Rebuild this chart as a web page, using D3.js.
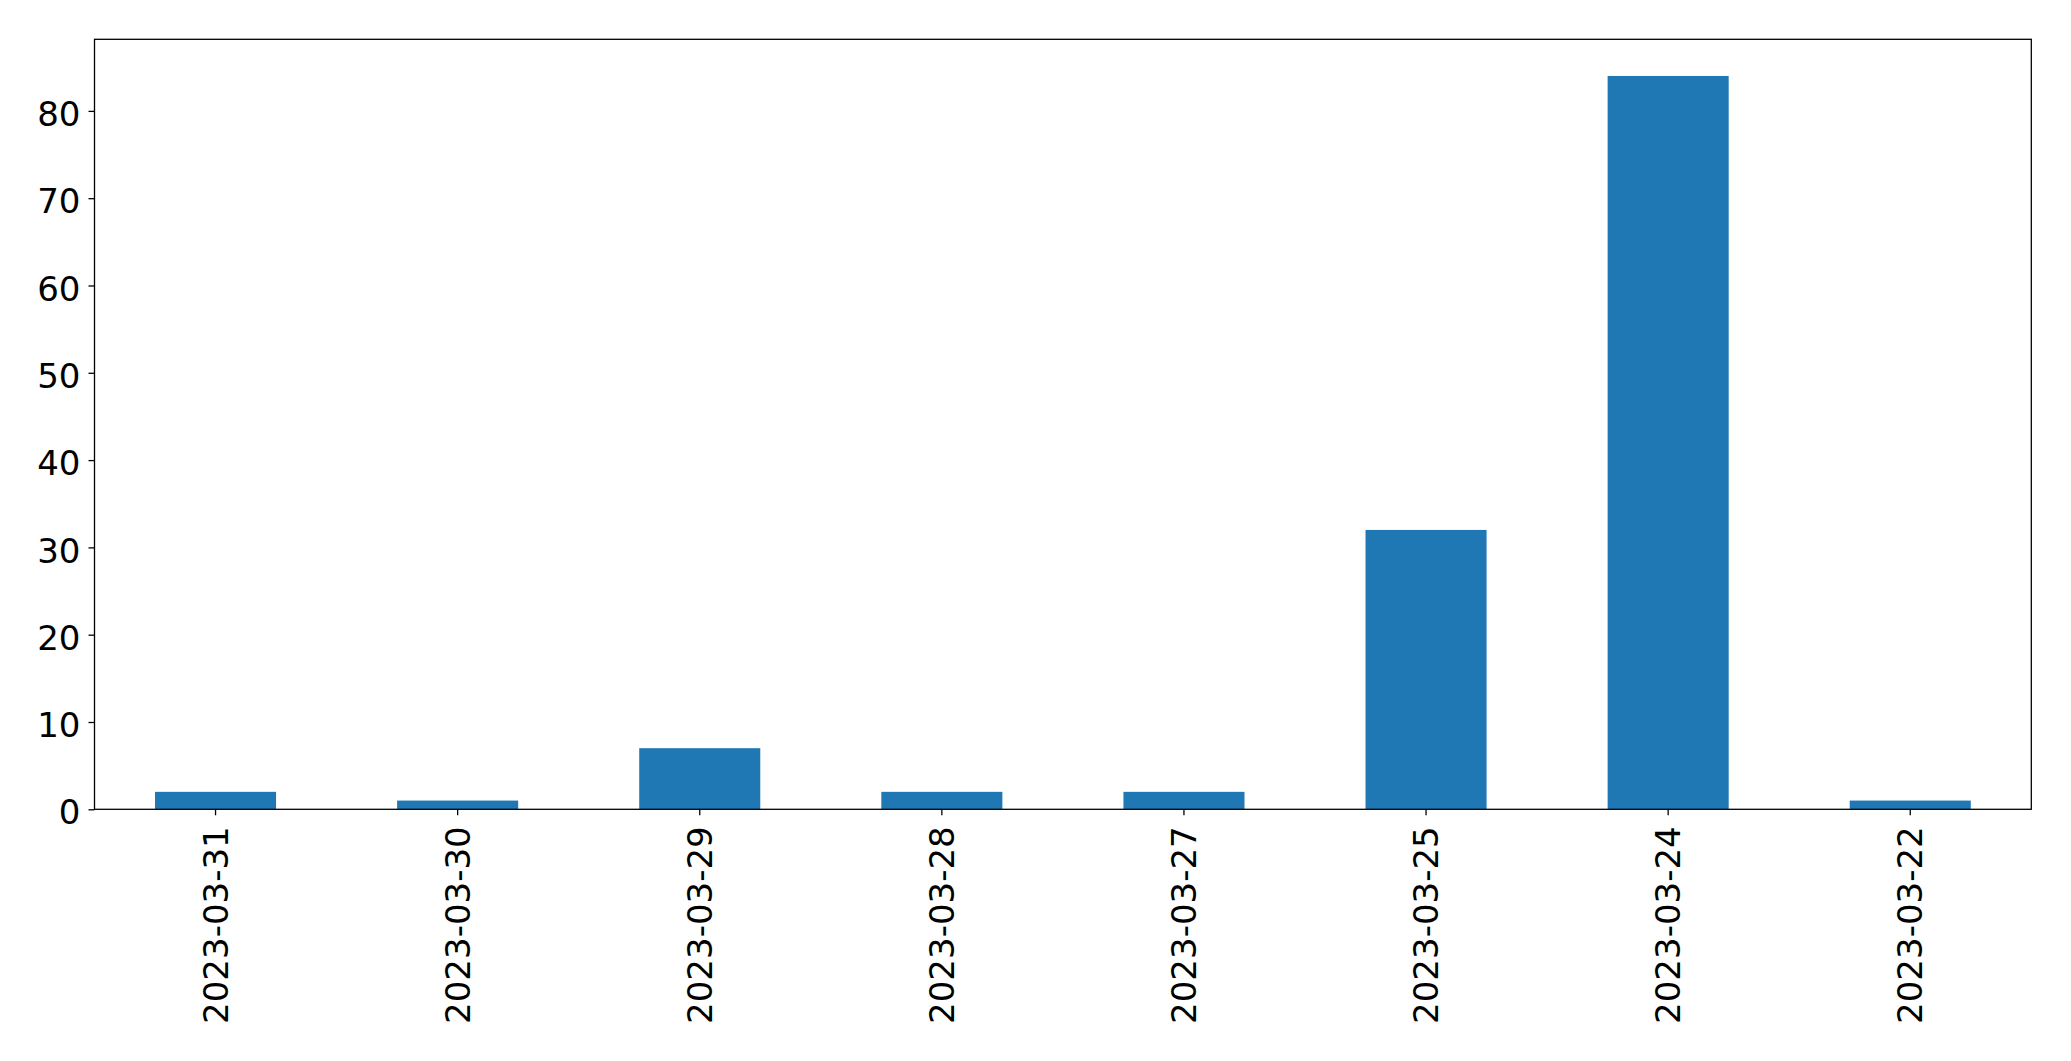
<!DOCTYPE html>
<html><head><meta charset="utf-8">
<script src="https://cdn.jsdelivr.net/npm/d3@7"></script>
<style>html,body{margin:0;padding:0;background:#fff;}svg{display:block;}</style>
</head><body>
<script>
const categories = ["2023-03-31","2023-03-30","2023-03-29","2023-03-28","2023-03-27","2023-03-25","2023-03-24","2023-03-22"];
const values = [2, 1, 7, 2, 2, 32, 84, 1];
const yTicks = [0, 10, 20, 30, 40, 50, 60, 70, 80];

const W = 2071, H = 1061;
const m = {left: 94.5, right: 2031.3, top: 39.3, bottom: 809.3};
const svg = d3.select("body").append("svg").attr("width", W).attr("height", H);

const x = d3.scaleBand().domain(categories).range([m.left, m.right]).paddingInner(0.5).paddingOuter(0.25);
const y = d3.scaleLinear().domain([0, d3.max(values) * 1.05]).range([m.bottom, m.top]);

svg.selectAll("rect.bar").data(values).join("rect")
  .attr("class", "bar")
  .attr("x", (d, i) => x(categories[i]))
  .attr("width", x.bandwidth())
  .attr("y", d => y(d))
  .attr("height", d => y(0) - y(d))
  .attr("fill", "#1f77b4");

const font = "'DejaVu Sans', sans-serif";
const fs = 34;

const yAxis = svg.append("g").attr("transform", `translate(${m.left},0)`)
  .call(d3.axisLeft(y).tickValues(yTicks).tickSize(6).tickPadding(8).tickFormat(d3.format("d")));
yAxis.select(".domain").remove();
yAxis.selectAll("text").attr("font-family", font).attr("font-size", fs).attr("fill", "#000").attr("dy", "0.43em");
yAxis.selectAll("line").attr("stroke", "#000").attr("stroke-width", 1.3);

const xAxis = svg.append("g").attr("transform", `translate(0,${m.bottom})`)
  .call(d3.axisBottom(x).tickSize(6).tickPadding(0));
xAxis.select(".domain").remove();
xAxis.selectAll("line").attr("stroke", "#000").attr("stroke-width", 1.3);
xAxis.selectAll("text")
  .attr("font-family", font).attr("font-size", fs).attr("fill", "#000")
  .attr("text-anchor", "end")
  .attr("dy", null)
  .attr("y", 0)
  .attr("transform", "translate(0,17) rotate(-90)")
  .attr("dominant-baseline", "central");

svg.append("rect")
  .attr("x", m.left).attr("y", m.top)
  .attr("width", m.right - m.left).attr("height", m.bottom - m.top)
  .attr("fill", "none").attr("stroke", "#000").attr("stroke-width", 1.3);
</script>
</body></html>
